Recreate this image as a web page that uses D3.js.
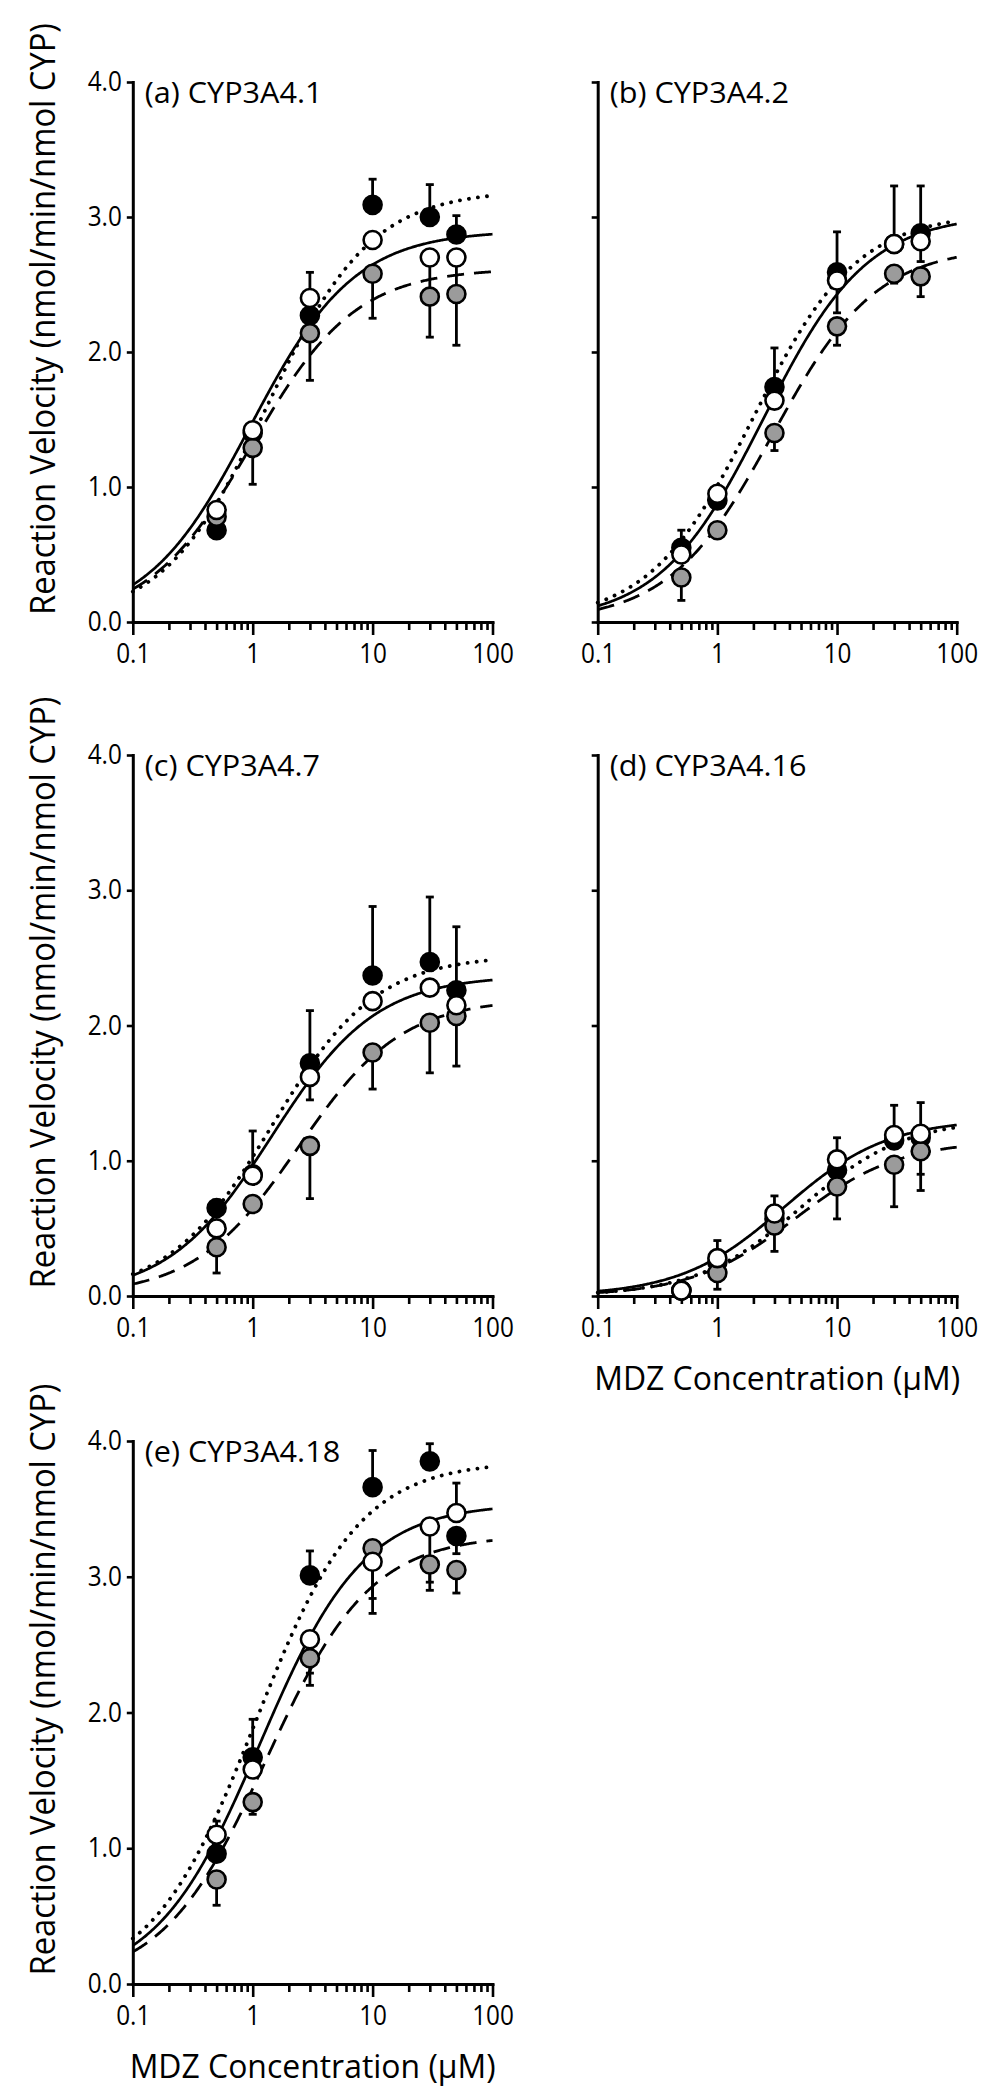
<!DOCTYPE html>
<html><head><meta charset="utf-8">
<script src="https://cdn.jsdelivr.net/npm/d3@7"></script>
<style>
body{margin:0;background:#fff}
svg{display:block}
text{font-family:"Open Sans",sans-serif;fill:#000}
</style>
</head><body>
<svg id="chart" width="1003" height="2100"></svg>
<script>
// ---------------- DATA ----------------
const concentrations = [0.5, 1, 3, 10, 30, 50];      // MDZ (µM)
const panelTitles = ["(a) CYP3A4.1", "(b) CYP3A4.2", "(c) CYP3A4.7", "(d) CYP3A4.16", "(e) CYP3A4.18"];
const yTickValues = [0, 1, 2, 3, 4];
const xMajorTicks = [0.1, 1, 10, 100];
const xTickLabels = ["0.1", "1", "10", "100"];
const yAxisTitle = "Reaction Velocity (nmol/min/nmol CYP)";
const xAxisTitle = "MDZ Concentration (\u03BCM)";

// filled (black) circles, dotted fit
const filledMean = [
  [0.68, 1.40, 2.27, 3.09, 3.00, 2.87],
  [0.55, 0.90, 1.74, 2.59, 2.80, 2.88],
  [0.65, 0.90, 1.72, 2.37, 2.47, 2.26],
  [0.04, 0.25, 0.57, 0.93, 1.15, 1.17],
  [0.96, 1.67, 3.01, 3.66, 3.85, 3.30]
];
// open (white) circles, solid fit
const openMean = [
  [0.83, 1.42, 2.40, 2.83, 2.70, 2.70],
  [0.50, 0.95, 1.64, 2.53, 2.80, 2.82],
  [0.50, 0.89, 1.62, 2.18, 2.28, 2.15],
  [0.04, 0.28, 0.61, 1.01, 1.19, 1.20],
  [1.10, 1.58, 2.54, 3.11, 3.37, 3.47]
];
// gray circles, dashed fit
const grayMean = [
  [0.78, 1.29, 2.14, 2.58, 2.41, 2.43],
  [0.33, 0.68, 1.40, 2.19, 2.58, 2.56],
  [0.36, 0.68, 1.11, 1.80, 2.02, 2.07],
  [0.04, 0.17, 0.52, 0.81, 0.97, 1.07],
  [0.77, 1.34, 2.40, 3.21, 3.09, 3.05]
];

// visible (one-sided) SD bars
const filledErrUp = [
  [0, 0, 0, 0.19, 0.24, 0.14],
  [0.13, 0, 0.29, 0.30, 0.43, 0.35],
  [0.06, 0, 0.39, 0.51, 0.48, 0.47],
  [0, 0, 0, 0, 0, 0],
  [0, 0.28, 0.18, 0.27, 0.13, 0]
];
const filledErrDown = [
  [0, 0, 0, 0, 0, 0],
  [0, 0, 0, 0, 0, 0],
  [0, 0, 0, 0, 0, 0],
  [0, 0, 0, 0, 0, 0.27],
  [0, 0, 0, 0, 0, 0.13]
];
const openErrUp = [
  [0, 0, 0.19, 0, 0, 0],
  [0, 0, 0, 0, 0, 0],
  [0, 0.33, 0, 0, 0, 0],
  [0, 0.13, 0.13, 0.16, 0.22, 0.23],
  [0.10, 0, 0, 0, 0, 0.22]
];
const openErrDown = [
  [0, 0, 0, 0, 0.25, 0.25],
  [0, 0, 0, 0.24, 0, 0.15],
  [0, 0, 0.17, 0, 0, 0],
  [0, 0, 0, 0, 0, 0],
  [0, 0, 0.34, 0.38, 0.47, 0]
];
const grayErrDown = [
  [0, 0.27, 0.35, 0.33, 0.30, 0.38],
  [0.17, 0, 0.13, 0.14, 0.07, 0.15],
  [0.19, 0, 0.39, 0.27, 0.37, 0.37],
  [0, 0.12, 0.19, 0.24, 0.31, 0.29],
  [0.19, 0.09, 0.11, 0.37, 0.13, 0.17]
];

// Michaelis-Menten fit parameters
const filledVmax = [3.20, 3.03, 2.52, 1.31, 3.85];
const filledKm   = [1.32, 2.00, 1.45, 5.00, 1.05];
const openVmax   = [2.90, 3.02, 2.37, 1.31, 3.54];
const openKm     = [0.955, 2.44, 1.45, 3.60, 1.15];
const grayVmax   = [2.62, 2.78, 2.20, 1.15, 3.31];
const grayKm     = [0.978, 2.90, 2.40, 4.50, 1.30];

// ---------------- LAYOUT / STYLE ----------------
const colRanges = [[132.8, 492.5], [597.7, 956.7]];
const rowRanges = [[622, 82], [1296, 755], [1984, 1441]];
const panelCell = [[0, 0], [1, 0], [0, 1], [1, 1], [0, 2]];
const showYTickLabels = [true, false, true, false, true];
const showXTitle = [false, false, false, true, true];

const series = [
  {mean: filledMean, up: filledErrUp, down: filledErrDown, vmax: filledVmax, km: filledKm,
   fill: "#000", dash: "0.1 9", lw: 3.8, cap: "round"},
  {mean: grayMean, up: null, down: grayErrDown, vmax: grayVmax, km: grayKm,
   fill: "#9b9b9b", dash: "17 10", lw: 2.8, cap: "butt"},
  {mean: openMean, up: openErrUp, down: openErrDown, vmax: openVmax, km: openKm,
   fill: "#fff", dash: null, lw: 2.7, cap: "butt"}
];

function squeeze(sel, factor) {
  sel.each(function () {
    const w = this.getComputedTextLength();
    if (w > 0) d3.select(this).attr("textLength", w * factor).attr("lengthAdjust", "spacingAndGlyphs");
  });
}

const svg = d3.select("#chart");
svg.append("rect").attr("width", 1003).attr("height", 2100).attr("fill", "#fff");

const xMinorTicks = [2, 3, 4, 5, 6, 7, 8, 9].flatMap(m => [m / 10, m, m * 10]);
const curveSamples = d3.range(0, 401).map(k => 0.1 * Math.pow(1000, k / 400));

panelTitles.forEach((title, i) => {
  const [c, r] = panelCell[i];
  const x = d3.scaleLog().domain([0.1, 100]).range(colRanges[c]);
  const y = d3.scaleLinear().domain([0, 4]).range(rowRanges[r]);
  const g = svg.append("g");

  // fitted curves
  const line = d3.line().x(d => x(d[0])).y(d => y(d[1]));
  series.forEach(s => {
    const pts = curveSamples.map(v => [v, s.vmax[i] * v / (s.km[i] + v)]);
    g.append("path").attr("d", line(pts))
      .attr("fill", "none").attr("stroke", "#000")
      .attr("stroke-width", s.lw)
      .attr("stroke-linecap", s.cap)
      .attr("stroke-dasharray", s.dash);
  });

  // axes
  const yAxis = d3.axisLeft(y).tickValues(yTickValues).tickSize(6).tickPadding(5).tickSizeOuter(0)
    .tickFormat(showYTickLabels[i] ? d3.format(".1f") : () => "");
  const ya = g.append("g").attr("transform", `translate(${x(0.1)},0)`).call(yAxis);

  const xAxis = d3.axisBottom(x).tickValues(xMajorTicks).tickSize(13).tickPadding(9).tickSizeOuter(0)
    .tickFormat((d, k) => xTickLabels[k]);
  const xa = g.append("g").attr("transform", `translate(0,${y(0)})`).call(xAxis);
  const xm = g.append("g").attr("transform", `translate(0,${y(0)})`)
    .call(d3.axisBottom(x).tickValues(xMinorTicks).tickSize(8).tickSizeOuter(0).tickFormat(() => ""));
  xm.select(".domain").remove();

  [ya, xa, xm].forEach(a => {
    a.attr("font-family", null).attr("font-size", null);
    a.select(".domain").attr("stroke", "#000").attr("stroke-width", 3).attr("stroke-linecap", "square");
    a.selectAll(".tick line").attr("stroke", "#000").attr("stroke-width", 2.6);
    a.selectAll(".tick text").attr("fill", "#000").style("font-size", "27px");
  });
  squeeze(ya.selectAll(".tick text"), 0.9);
  squeeze(xa.selectAll(".tick text"), 0.9);

  // error bars
  const eb = g.append("g").attr("stroke", "#000").attr("stroke-width", 2.8);
  series.forEach(s => {
    concentrations.forEach((cx, k) => {
      const m = s.mean[i][k];
      const parts = [];
      if (s.up && s.up[i][k] > 0) parts.push(m + s.up[i][k]);
      if (s.down && s.down[i][k] > 0) parts.push(m - s.down[i][k]);
      parts.forEach(end => {
        eb.append("line").attr("x1", x(cx)).attr("x2", x(cx)).attr("y1", y(m)).attr("y2", y(end));
        eb.append("line").attr("x1", x(cx) - 4).attr("x2", x(cx) + 4).attr("y1", y(end)).attr("y2", y(end));
      });
    });
  });

  // markers
  series.forEach(s => {
    g.append("g").selectAll("circle").data(concentrations).join("circle")
      .attr("cx", d => x(d))
      .attr("cy", (d, k) => y(s.mean[i][k]))
      .attr("r", 9)
      .attr("fill", s.fill)
      .attr("stroke", "#000")
      .attr("stroke-width", 2.6);
  });

  // panel title
  const t = g.append("text").attr("x", x(0.1) + 12).attr("y", y(4) + 21)
    .style("font-size", "30px").text(title);
  squeeze(t, 1.02);

  // y title
  if (showYTickLabels[i]) {
    const cy = (y(0) + y(4)) / 2 - 33;
    const yt = g.append("text").attr("transform", `translate(55,${cy}) rotate(-90)`)
      .attr("text-anchor", "middle").style("font-size", "34px").text(yAxisTitle);
    yt.attr("textLength", 592).attr("lengthAdjust", "spacingAndGlyphs");
  }
  // x title
  if (showXTitle[i]) {
    const xt = g.append("text").attr("x", (x(0.1) + x(100)) / 2).attr("y", y(0) + 94)
      .attr("text-anchor", "middle").style("font-size", "33px").text(xAxisTitle);
    xt.attr("textLength", 366).attr("lengthAdjust", "spacingAndGlyphs");
  }
});
</script>
</body></html>
